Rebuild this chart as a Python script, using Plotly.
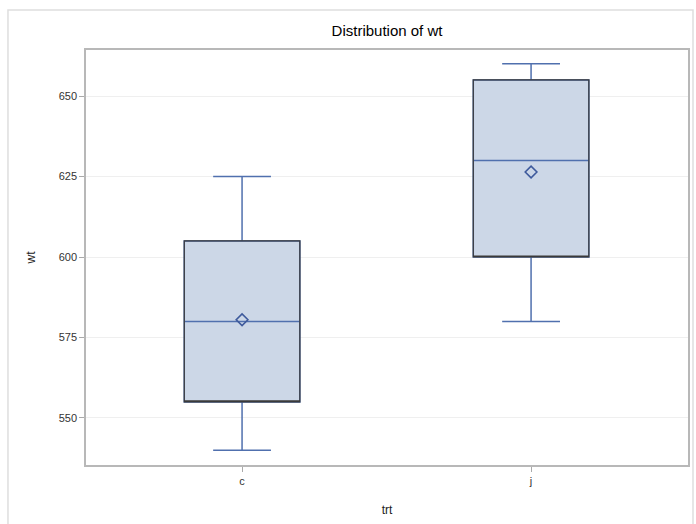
import plotly.graph_objects as go

# Summary statistics of wt by treatment group
trt = ["c", "j"]
wt_min = [540, 580]
wt_q1 = [555, 600]
wt_median = [580, 630]
wt_q3 = [605, 655]
wt_max = [625, 660]
wt_mean = [580.5, 626.4]

y_ticks = [550, 575, 600, 625, 650]

BLUE = "#5070AE"
FILL = "#CCD7E7"
DARK = "#3A3A3A"
FONT = "Liberation Sans, Arial, sans-serif"

fig = go.Figure()

# Filled boxes with whiskers, caps and median line
fig.add_trace(go.Box(
    x=trt, q1=wt_q1, median=wt_median, q3=wt_q3,
    lowerfence=wt_min, upperfence=wt_max,
    width=0.4, whiskerwidth=0.5,
    fillcolor=FILL, line=dict(color=BLUE, width=1.5),
    boxpoints=False, hoverinfo="skip", showlegend=False,
))

# Dark outline of the interquartile boxes
fig.add_trace(go.Box(
    x=trt, q1=wt_q1, median=wt_q1, q3=wt_q3,
    lowerfence=wt_q1, upperfence=wt_q3,
    width=0.4, whiskerwidth=0,
    fillcolor="rgba(0,0,0,0)", line=dict(color=DARK, width=1.2),
    boxpoints=False, hoverinfo="skip", showlegend=False,
))

# Group means
fig.add_trace(go.Scatter(
    x=trt, y=wt_mean, mode="markers",
    marker=dict(symbol="diamond-open", size=9, color="#3E5A9C",
                line=dict(width=1.6, color="#3E5A9C")),
    hoverinfo="skip", showlegend=False,
))

# Light border around the whole graph
fig.add_shape(type="rect", xref="paper", yref="paper",
              x0=-0.1296, x1=1.0083, y0=-0.3, y1=1.0964,
              line=dict(color="#DEDEDE", width=1.5), layer="below")

fig.update_layout(
    template="none",
    width=696, height=524,
    margin=dict(l=86, r=8, t=50, b=59),
    paper_bgcolor="white", plot_bgcolor="white",
    boxmode="overlay",
    font=dict(family=FONT, color="#333333"),
    title=dict(text="Distribution of wt", x=0.5, xref="paper",
               y=1 - 31 / 524, yanchor="middle",
               font=dict(size=15, color="#000000", family=FONT)),
    xaxis=dict(
        range=[-0.54, 1.543], type="category",
        title=dict(text="trt", font=dict(size=12, color="#222222"), standoff=20),
        tickfont=dict(size=11, color="#333333"),
        ticks="outside", ticklen=5, tickcolor="#AAAAAA", tickwidth=1,
        showline=True, linecolor="#B8B8B8", linewidth=1.5, mirror=True,
        showgrid=False, zeroline=False,
    ),
    yaxis=dict(
        range=[535.4, 664.3],
        tickvals=y_ticks,
        title=dict(text="wt", font=dict(size=12, color="#222222"), standoff=20),
        tickfont=dict(size=11, color="#333333"),
        ticks="outside", ticklen=5, tickcolor="#AAAAAA", tickwidth=1,
        showline=True, linecolor="#B8B8B8", linewidth=1.5, mirror=True,
        showgrid=True, gridcolor="#EFEFEF", gridwidth=1, zeroline=False,
    ),
)

fig.write_html("out.html")
